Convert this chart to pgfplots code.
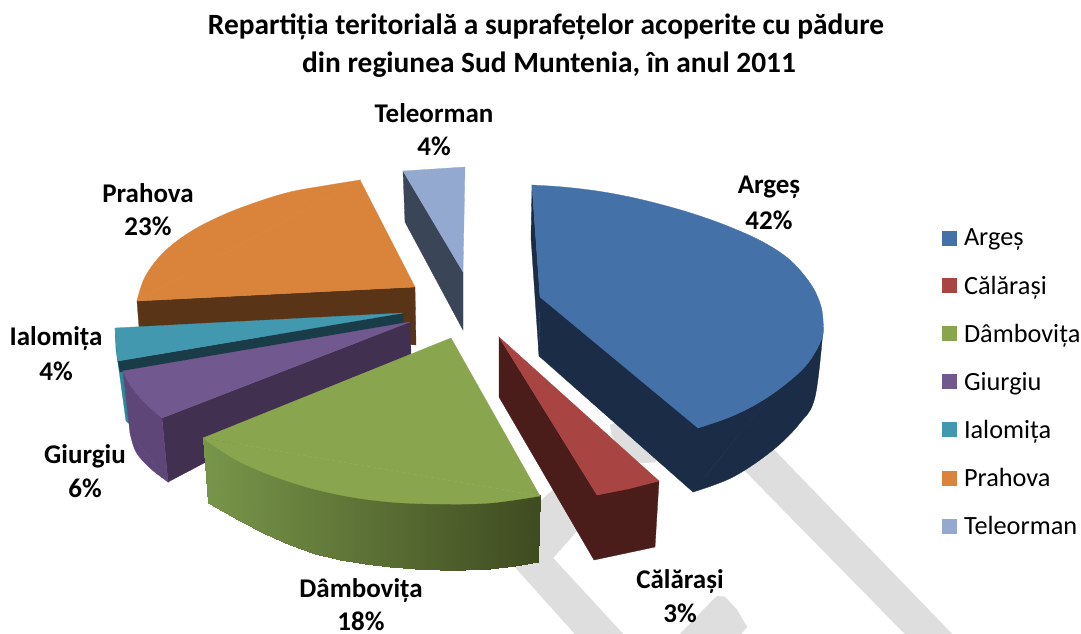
\documentclass[border=0pt]{standalone}
\usepackage{pgfplots}
\pgfplotsset{compat=1.18}
\usepackage{fontspec}
\setmainfont{Carlito}
\definecolor{cA}{HTML}{4472A8}\definecolor{cAw}{HTML}{1B2D46}
\definecolor{cC}{HTML}{A84543}\definecolor{cCw}{HTML}{4A1C1A}
\definecolor{cD}{HTML}{89A54E}\definecolor{cDa}{HTML}{78964A}\definecolor{cDb}{HTML}{3F4B20}
\definecolor{cG}{HTML}{71588F}\definecolor{cGw}{HTML}{41304F}\definecolor{cGo}{HTML}{5E4679}
\definecolor{cI}{HTML}{4198AF}\definecolor{cIw}{HTML}{1A3C49}\definecolor{cIo}{HTML}{2F8699}
\definecolor{cP}{HTML}{D9833B}\definecolor{cPw}{HTML}{5A3416}
\definecolor{cT}{HTML}{93A9CF}\definecolor{cTw}{HTML}{3A4558}
\definecolor{wm}{HTML}{DEDEDE}
\newcommand{\poly}[2]{\addplot[fill=#1,draw=#1,line width=0.3pt,forget plot] coordinates {#2} --cycle;}
\newcommand{\arcp}[2]{\addplot[smooth,tension=0.6,fill=#1,draw=#1,line width=0.3pt,forget plot] coordinates {#2} --cycle;}
\begin{document}
\begin{tikzpicture}
\useasboundingbox (0,0) rectangle (1081pt,634pt);
\begin{axis}[
  at={(0,0)},anchor=south west,
  width=1081pt,height=634pt,scale only axis,
  xmin=0,xmax=1081,ymin=0,ymax=634,y dir=reverse,
  hide axis,clip=true,
  point meta min=203,point meta max=540,
  colormap={dw}{color=(cDa) color=(cDb)},
  legend style={draw=none,fill=none,at={(axis cs:942,229)},anchor=north west,
    font=\fontsize{26.3}{26.3}\selectfont,
    row sep=28.4pt,inner sep=0pt,outer sep=0pt,
    nodes={inner sep=0pt,anchor=west}},
  legend cell align=left,
  legend image code/.code={\fill[#1] (0pt,-7.5pt) rectangle (15pt,7.5pt);\path (22pt,0pt);},
]
% watermark
\poly{wm}{(750,425)(952,634)(905,634)(700,425)}
\poly{wm}{(610,425)(612,436)(620,447)(632,458)(642,463)(655,462)(680,440)(650,410)}
\poly{wm}{(530,510)(553,490)(590,520)(575,533)(553,558)(623,634)(575,634)(515,567)}
\poly{wm}{(680,634)(717,596)(725,597)(737,610)(747,627)(741,634)}
% Teleorman
\poly{cTw}{(403,171)(463,272)(463,330)(405,222)}
\poly{cT}{(403,171)(465,167)(463,272)}
% Prahova
\poly{cPw}{(137,301)(415,287)(416,345)(139,327)}
\poly{cP}{(137,301)(360,180)(415,287)}
\arcp{cP}{(137,301)(145,277)(163,253)(190,232)(223,215)(257,202)(290,192)(323,186)(360,180)}
% Ialomita
\poly{cIo}{(115,328)(116,350)(119,370)(126,421)(131,425)(125,370)(118,361)}
\poly{cIw}{(403,313)(118,361)(120,372)(403,324)}
\poly{cI}{(115,328)(403,313)(118,361)}
% Giurgiu
\poly{cGw}{(410,322)(162,418)(168,482)(411,354)}
\arcp{cGo}{(130,433)(136,452)(150,468)(168,482)}
\poly{cGo}{(123,371)(162,418)(168,482)(130,433)}
\poly{cG}{(410,322)(123,371)(162,418)}
\arcp{cG}{(123,371)(130,385)(145,403)(162,418)}
% Dambovita wall
\addplot[patch,patch type=rectangle,shader=interp,point meta=x,forget plot] coordinates {
(203,438)(240,460)(240,521)(208,503)
(240,460)(265,471)(265,534)(240,521)
(265,471)(290,480)(290,545)(265,534)
(290,480)(315,487)(315,554)(290,545)
(315,487)(340,493)(340,560)(315,554)
(340,493)(365,497)(365,564)(340,560)
(365,497)(390,500)(390,567)(365,564)
(390,500)(415,501)(415,569)(390,567)
(415,501)(440,502)(440,570)(415,569)
(440,502)(465,502)(465,570)(440,570)
(465,502)(490,501)(490,569)(465,570)
(490,501)(515,498)(515,566)(490,569)
(515,498)(540,495)(538,562)(515,566)
};
\poly{cD}{(451,338)(203,438)(540,496)}
\arcp{cD}{(203,438)(240,462)(290,482)(340,495)(390,502)(440,504)(490,503)(540,496)}
% Calarasi
\poly{cCw}{(499,337)(597,495)(659,481)(655,547)(594,560)(499,397)}
\poly{cC}{(499,337)(659,481)(628,489)(597,495)}
% Arges
\poly{cAw}{(532,185)(540,297)(539,356)(531,238)}
\poly{cAw}{(540,297)(823,330)(693,492)(539,356)}
\arcp{cAw}{(823,330)(815,397)(800,423)(773,450)(733,477)(693,492)}
\poly{cA}{(532,185)(823,320)(698,428)(540,297)}
\arcp{cA}{(532,185)(563,187)(597,191)(630,197)(663,205)(697,215)(730,227)(763,242)(790,260)(810,283)(820,303)(823,320)(822,338)(808,363)(787,383)(760,402)(730,417)(698,428)}
% legend
\addlegendimage{fill=cA,draw=none}\addlegendentry{Argeș}
\addlegendimage{fill=cC,draw=none}\addlegendentry{Călărași}
\addlegendimage{fill=cD,draw=none}\addlegendentry{Dâmbovița}
\addlegendimage{fill=cG,draw=none}\addlegendentry{Giurgiu}
\addlegendimage{fill=cI,draw=none}\addlegendentry{Ialomița}
\addlegendimage{fill=cP,draw=none}\addlegendentry{Prahova}
\addlegendimage{fill=cT,draw=none}\addlegendentry{Teleorman}
% text
\begin{scope}[every node/.style={font=\fontsize{27}{27}\selectfont\bfseries,inner sep=0pt,anchor=center}]
\node at (axis cs:546,27) {\fontsize{29.4}{29.4}\selectfont Repartiția teritorială a suprafețelor acoperite cu pădure};
\node at (axis cs:549,65) {\fontsize{29.4}{29.4}\selectfont din regiunea Sud Muntenia, în anul 2011};
\node at (axis cs:434,113) {Teleorman}; \node at (axis cs:434,146) {4\%};
\node at (axis cs:148,193) {Prahova}; \node at (axis cs:148,226) {23\%};
\node at (axis cs:769,187) {Argeș}; \node at (axis cs:769,220) {42\%};
\node at (axis cs:56,338) {Ialomița}; \node at (axis cs:56,371) {4\%};
\node at (axis cs:85,456) {Giurgiu}; \node at (axis cs:85,488) {6\%};
\node at (axis cs:361,590) {Dâmbovița}; \node at (axis cs:361,621) {18\%};
\node at (axis cs:680,581) {Călărași}; \node at (axis cs:680,613) {3\%};
\end{scope}
\end{axis}
\end{tikzpicture}
\end{document}
